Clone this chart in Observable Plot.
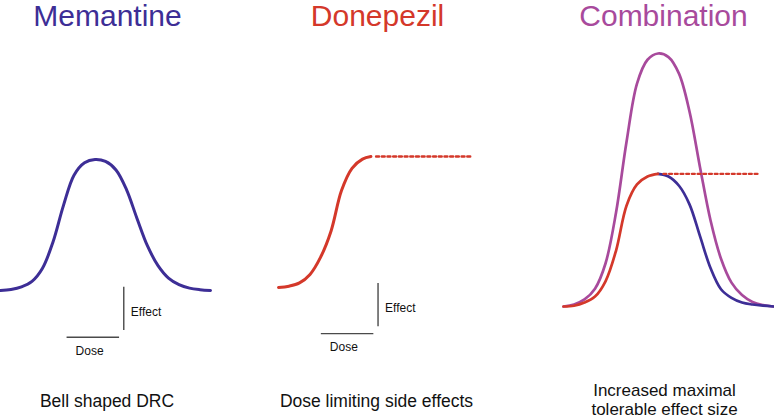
<!DOCTYPE html>
<html><head><meta charset="utf-8">
<script src="https://cdn.jsdelivr.net/npm/d3@7"></script>
<script src="https://cdn.jsdelivr.net/npm/@observablehq/plot@0.6"></script>
<style>
body{margin:0;background:#fff;}
#chart{position:relative;width:774px;height:418px;overflow:hidden;}
#chart svg{position:absolute;top:0;}
</style></head><body><div id="chart"></div>
<script>
// ---- data (dose in arbitrary units 0..10, effect relative to single-drug maximum) ----
const panels = ["Memantine", "Donepezil", "Combination"];
const captions = ["Bell shaped DRC", "Dose limiting side effects", "Increased maximal\ntolerable effect size"];
const keyLabels = ["Effect", "Dose"];

const doses = [0, 0.5, 1, 1.5, 2, 2.5, 3, 3.5, 4, 4.5, 5, 5.5, 6, 6.5, 7, 7.5, 8, 8.5, 9, 9.5, 10];
const memantineEffect = [0, 0.008, 0.028, 0.07, 0.17, 0.37, 0.65, 0.88, 0.975, 1.0, 0.985, 0.92, 0.77, 0.55, 0.34, 0.19, 0.095, 0.045, 0.018, 0.006, 0];

const donepezilDoses = [0, 0.5, 1, 1.5, 2, 2.5, 3, 3.5, 4, 4.4];
const donepezilEffect = [0, 0.01, 0.035, 0.10, 0.23, 0.43, 0.74, 0.91, 0.98, 1.0];
const donepezilCeilingDoses = [4.65, 9.25];
const donepezilCeilingEffect = [1, 1];

const combinationEffect = [0, 0.015, 0.053, 0.134, 0.324, 0.706, 1.24, 1.68, 1.86, 1.907, 1.88, 1.755, 1.47, 1.05, 0.65, 0.36, 0.18, 0.086, 0.034, 0.011, 0];
const comboDonepezilDoses = [0, 0.5, 1, 1.5, 2, 2.5, 3, 3.5, 4, 4.5];
const comboDonepezilEffect = [0, 0.006, 0.03, 0.075, 0.19, 0.42, 0.76, 0.92, 0.98, 1.0];
const comboMemantineDoses = [4.5, 5, 5.5, 6, 6.5, 7, 7.5, 8, 8.5, 9, 9.5, 10];
const comboMemantineEffect = [1.0, 0.98, 0.91, 0.77, 0.53, 0.29, 0.13, 0.065, 0.03, 0.015, 0.006, 0];
const comboCeilingDoses = [4.76, 9.29];
const comboCeilingEffect = [1, 1];

const keyDoseLength = 2.5;     // length of the "Dose" key bar, in dose units
const keyEffectLength = 0.33;  // length of the "Effect" key bar, in effect units

// ---- styling ----
const colors = {Memantine: "#3d2e96", Donepezil: "#d4382a", Combination: "#a84a9c"};
const font = "'Liberation Sans', Arial, Helvetica, sans-serif";
const zip = (xs, ys) => xs.map((x, i) => ({dose: x, effect: ys[i]}));

function keyMarks(doseEnd, effectTop) {
  const bottom = effectTop - keyEffectLength;
  const doseY = bottom - 0.052;
  const barX = doseEnd + 0.2;
  return [
    Plot.ruleX([barX], {y1: effectTop, y2: bottom, stroke: "#4a4a4a", strokeWidth: 1.4}),
    Plot.ruleY([doseY], {x1: doseEnd - keyDoseLength, x2: doseEnd, stroke: "#4a4a4a", strokeWidth: 1.4}),
    Plot.text([keyLabels[0]], {x: barX, y: (effectTop + bottom) / 2, text: d => d, textAnchor: "start", lineAnchor: "middle", dx: 7, dy: 3, fontSize: 12, fill: "#111"}),
    Plot.text([keyLabels[1]], {x: doseEnd - keyDoseLength, y: doseY, text: d => d, textAnchor: "start", lineAnchor: "bottom", dx: 8.5, dy: 17.3, fontSize: 12, fill: "#111"})
  ];
}

function panel({left, marginTop, marginBottom, yMax, idx, titleDx, captionDx, captionBaseline, lineHeight, captionSize, marks}) {
  const title = panels[idx];
  const svg = Plot.plot({
    width: 211, height: 418,
    marginLeft: 0, marginRight: 1, marginTop, marginBottom,
    x: {domain: [0, 10], axis: null},
    y: {domain: [0, yMax], axis: null},
    style: {fontFamily: font, background: "transparent", overflow: "visible"},
    marks: [
      ...marks,
      Plot.text([title], {text: d => d, frameAnchor: "top", lineAnchor: "bottom", dy: 25 - marginTop, dx: titleDx, fontSize: 30, fill: colors[title]}),
      Plot.text([captions[idx]], {text: d => d, frameAnchor: "bottom", lineAnchor: "bottom", lineHeight: lineHeight || 1, dy: captionBaseline - (418 - marginBottom), dx: captionDx, fontSize: captionSize || 17.5, fill: "#111"})
    ]
  });
  svg.style.left = left + "px";
  document.getElementById("chart").appendChild(svg);
}

panel({
  left: 0, marginTop: 159, marginBottom: 128, yMax: 1, idx: 0, titleDx: 2, captionDx: 1.5, captionBaseline: 406.7,
  marks: [
    Plot.line(zip(doses, memantineEffect), {x: "dose", y: "effect", curve: "catmull-rom", stroke: colors.Memantine, strokeWidth: 3}),
    ...keyMarks(5.67, 0.025)
  ]
});

panel({
  left: 278, marginTop: 156, marginBottom: 131, yMax: 1, idx: 1, titleDx: -6, captionDx: -7, captionBaseline: 406.7,
  marks: [
    Plot.line(zip(donepezilDoses, donepezilEffect), {x: "dose", y: "effect", curve: "catmull-rom", stroke: colors.Donepezil, strokeWidth: 3}),
    Plot.line(zip(donepezilCeilingDoses, donepezilCeilingEffect), {x: "dose", y: "effect", stroke: colors.Donepezil, strokeWidth: 2.6, strokeDasharray: "2.8,2.9"}),
    ...keyMarks(4.54, 0.03)
  ]
});

panel({
  left: 563, marginTop: 53, marginBottom: 112, yMax: 1.907, idx: 2, titleDx: -5, captionDx: -4, captionBaseline: 414, lineHeight: 1.08, captionSize: 17,
  marks: [
    Plot.line(zip(doses, combinationEffect), {x: "dose", y: "effect", curve: "catmull-rom", stroke: colors.Combination, strokeWidth: 2.7}),
    Plot.line(zip(comboMemantineDoses, comboMemantineEffect), {x: "dose", y: "effect", curve: "catmull-rom", stroke: colors.Memantine, strokeWidth: 2.7}),
    Plot.line(zip(comboDonepezilDoses, comboDonepezilEffect), {x: "dose", y: "effect", curve: "catmull-rom", stroke: colors.Donepezil, strokeWidth: 2.7}),
    Plot.line(zip(comboCeilingDoses, comboCeilingEffect), {x: "dose", y: "effect", stroke: colors.Donepezil, strokeWidth: 2.4, strokeDasharray: "2.8,2.9"})
  ]
});
</script></body></html>
